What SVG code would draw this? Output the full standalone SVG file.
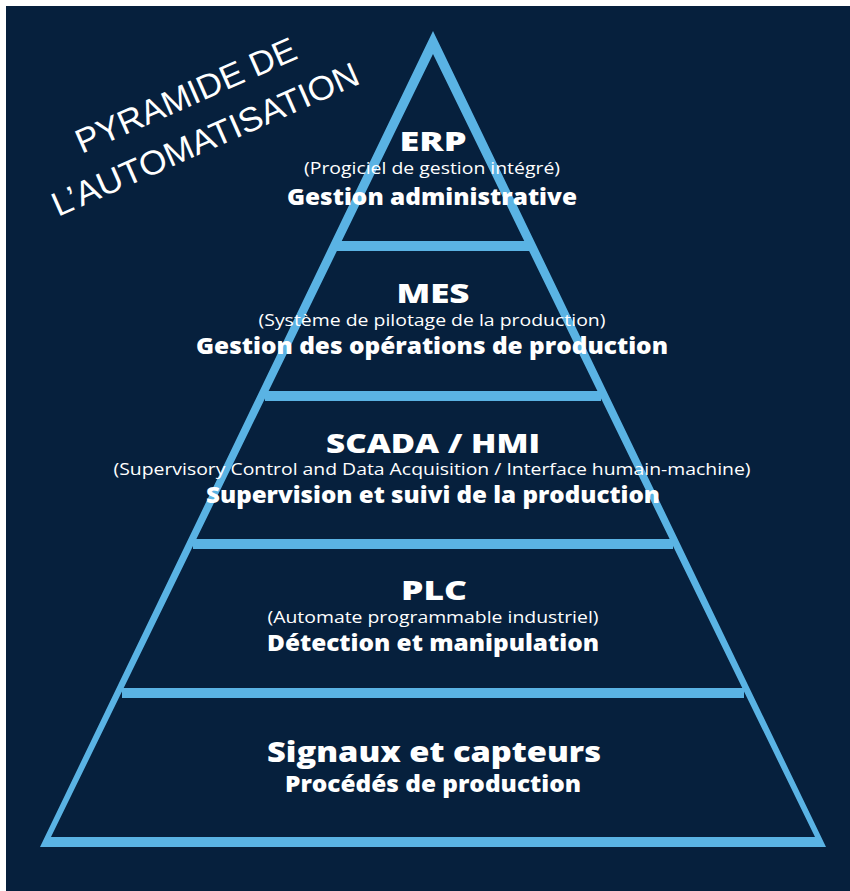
<svg xmlns="http://www.w3.org/2000/svg" width="850" height="891" viewBox="0 0 850 891">
<style>
.bg{fill:#06203d}
.edge{fill:#5ab3e4}
.h{font-family:"Open Sans","Liberation Sans",sans-serif;font-weight:800;fill:#ffffff;text-anchor:middle}
.s{font-family:"Open Sans","Liberation Sans",sans-serif;font-weight:400;fill:#ffffff;text-anchor:middle}
.t{font-family:"Liberation Sans",Arial,sans-serif;font-weight:400;fill:#ffffff;text-anchor:middle}
</style>
<rect x="0" y="0" width="850" height="891" fill="#ffffff"/>
<rect class="bg" x="6" y="6" width="844" height="885"/>
<g id="pyramid-frame">
<path class="edge" fill-rule="evenodd" d="M433 31 L40 847 L826 847 Z M433 54 L815 837 L51 837 Z"/>
<rect class="edge" x="337" y="241" width="192" height="10"/>
<rect class="edge" x="265" y="391" width="336" height="10"/>
<rect class="edge" x="193" y="539" width="480" height="10"/>
<rect class="edge" x="122" y="688" width="622" height="10"/>
</g>
<g id="title" transform="translate(58,217) rotate(-23.8)">
<text class="t" x="166" y="-48" font-size="34" textLength="238" lengthAdjust="spacingAndGlyphs">PYRAMIDE DE</text>
<text class="t" x="166" y="0" font-size="34" textLength="332" lengthAdjust="spacingAndGlyphs">L’AUTOMATISATION</text>
</g>
<g id="level-erp">
<text class="h" x="433" y="151" font-size="27" textLength="67" lengthAdjust="spacingAndGlyphs">ERP</text>
<text class="s" x="432" y="174" font-size="16" textLength="256" lengthAdjust="spacingAndGlyphs">(Progiciel de gestion intégré)</text>
<text class="h" x="432" y="205" font-size="22" textLength="290" lengthAdjust="spacingAndGlyphs">Gestion administrative</text>
</g>
<g id="level-mes">
<text class="h" x="433" y="303" font-size="27" textLength="73" lengthAdjust="spacingAndGlyphs">MES</text>
<text class="s" x="432" y="326" font-size="16" textLength="347" lengthAdjust="spacingAndGlyphs">(Système de pilotage de la production)</text>
<text class="h" x="432" y="354" font-size="22" textLength="472" lengthAdjust="spacingAndGlyphs">Gestion des opérations de production</text>
</g>
<g id="level-scada">
<text class="h" x="433" y="453" font-size="27" textLength="214" lengthAdjust="spacingAndGlyphs">SCADA / HMI</text>
<text class="s" x="432" y="475" font-size="16" textLength="637" lengthAdjust="spacingAndGlyphs">(Supervisory Control and Data Acquisition / Interface humain-machine)</text>
<text class="h" x="433" y="503" font-size="22" textLength="454" lengthAdjust="spacingAndGlyphs">Supervision et suivi de la production</text>
</g>
<g id="level-plc">
<text class="h" x="434" y="600" font-size="27" textLength="66" lengthAdjust="spacingAndGlyphs">PLC</text>
<text class="s" x="433" y="623" font-size="16" textLength="331" lengthAdjust="spacingAndGlyphs">(Automate programmable industriel)</text>
<text class="h" x="433" y="651" font-size="22" textLength="332" lengthAdjust="spacingAndGlyphs">Détection et manipulation</text>
</g>
<g id="level-signaux">
<text class="h" x="434" y="762" font-size="28" textLength="334" lengthAdjust="spacingAndGlyphs">Signaux et capteurs</text>
<text class="h" x="433" y="792" font-size="22" textLength="296" lengthAdjust="spacingAndGlyphs">Procédés de production</text>
</g>
</svg>
